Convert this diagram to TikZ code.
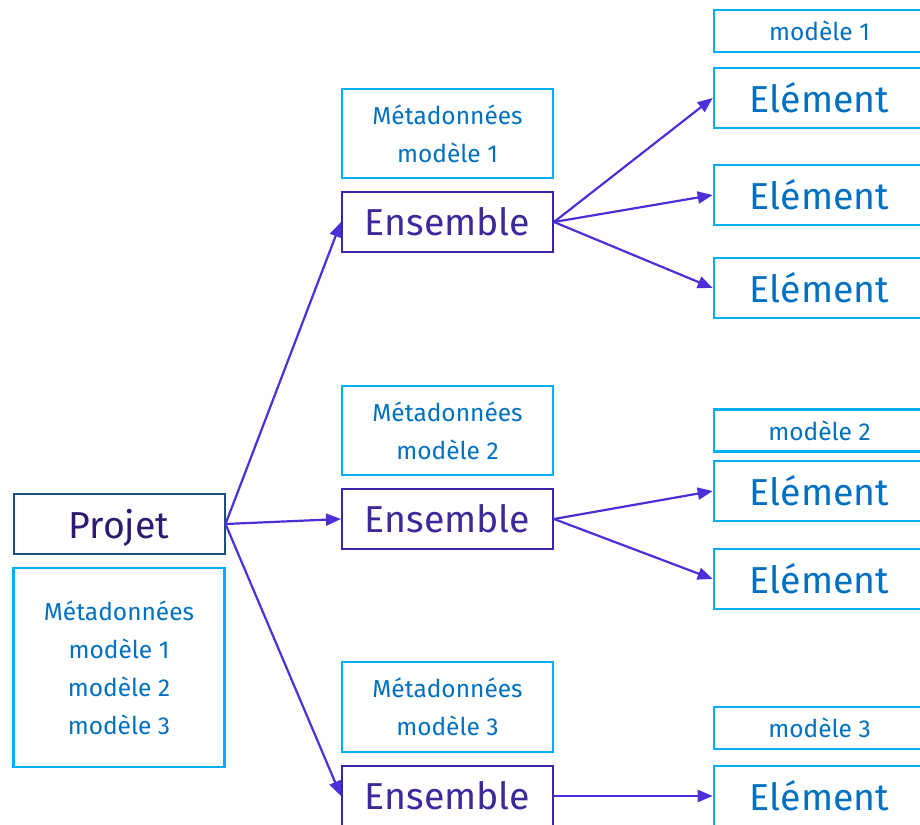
\documentclass[tikz,border=0pt]{standalone}
\usepackage{fontspec}
\setmainfont{Fira Sans}
\usetikzlibrary{arrows.meta}
\definecolor{cyanb}{HTML}{00B0F0}
\definecolor{txtb}{HTML}{0070C0}
\definecolor{ensb}{HTML}{3B24A6}
\definecolor{enst}{HTML}{3A2A9B}
\definecolor{projb}{HTML}{1F4E79}
\definecolor{projt}{HTML}{2E1A6E}
\definecolor{arr}{HTML}{4B2FD8}
\tikzset{
  box/.style={draw, rectangle, minimum width=211pt, inner sep=0pt, align=center},
  meta/.style={box, draw=cyanb, line width=2.6pt, text=txtb, font=\fontsize{24.5}{38}\selectfont},
  mod/.style={box, draw=cyanb, line width=2.6pt, text=txtb, minimum height=42pt, font=\fontsize{24.5}{38}\selectfont},
  elem/.style={box, draw=cyanb, line width=2.6pt, text=txtb, minimum height=60pt, font=\fontsize{37.5}{40}\selectfont},
  ens/.style={box, draw=ensb, line width=2pt, text=enst, minimum height=60pt, font=\fontsize{37.5}{40}\selectfont},
  proj/.style={box, draw=projb, line width=2pt, text=projt, minimum height=60pt, font=\fontsize{37.5}{40}\selectfont},
  link/.style={draw=arr, line width=2.2pt, -{Triangle[length=15pt,width=12pt]}}
}
\begin{document}
\begin{tikzpicture}[x=1pt,y=-1pt]
\useasboundingbox (0,0) rectangle (920,824);
\clip (0,0) rectangle (920,824);
% Projet
\node[proj] (proj) at (119,524) {\raisebox{0pt}[28pt][0pt]{Projet}};
\node[meta, minimum height=199pt] (projmeta) at (119,667.5) {Métadonnées\\modèle 1\\modèle 2\\modèle 3};
% Ensembles
\node[meta, minimum height=89pt] (meta1) at (447.5,133.5) {Métadonnées\\modèle 1};
\node[ens] (ens1) at (447.5,222) {Ensemble};
\node[meta, minimum height=89pt] (meta2) at (447.5,430.5) {Métadonnées\\modèle 2};
\node[ens] (ens2) at (447.5,519) {Ensemble};
\node[meta, minimum height=90pt] (meta3) at (447.5,707) {Métadonnées\\modèle 3};
\node[ens] (ens3) at (447.5,796) {Ensemble};
% Elements
\node[mod] (mod1) at (819.5,31) {modèle 1};
\node[elem] (el1) at (819.5,98) {Elément};
\node[elem] (el2) at (819.5,195) {Elément};
\node[elem] (el3) at (819.5,288) {Elément};
\node[mod] (mod2) at (819.5,430.5) {modèle 2};
\node[elem] (el4) at (819.5,491) {Elément};
\node[elem] (el5) at (819.5,579) {Elément};
\node[mod] (mod3) at (819.5,728) {modèle 3};
\node[elem] (el6) at (819.5,796) {Elément};
% Links
\draw[link] (proj.east) -- (ens1.west);
\draw[link] (proj.east) -- (ens2.west);
\draw[link] (proj.east) -- (ens3.west);
\draw[link] (ens1.east) -- (el1.west);
\draw[link] (ens1.east) -- (el2.west);
\draw[link] (ens1.east) -- (el3.west);
\draw[link] (ens2.east) -- (el4.west);
\draw[link] (ens2.east) -- (el5.west);
\draw[link] (ens3.east) -- (el6.west);
\end{tikzpicture}
\end{document}
